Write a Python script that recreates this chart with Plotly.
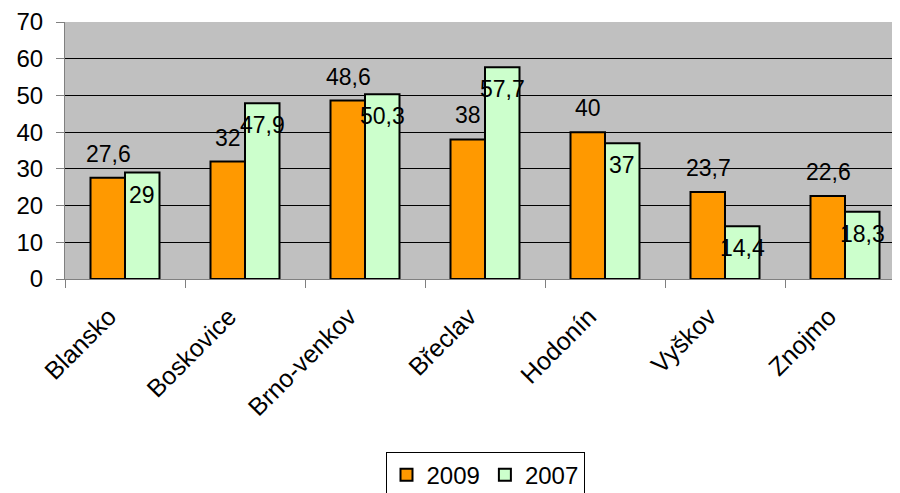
import plotly.graph_objects as go

categories = ["Blansko", "Boskovice", "Brno-venkov", "Břeclav", "Hodonín", "Vyškov", "Znojmo"]
values_2009 = [27.6, 32, 48.6, 38, 40, 23.7, 22.6]
values_2007 = [29, 47.9, 50.3, 57.7, 37, 14.4, 18.3]
y_ticks = [0, 10, 20, 30, 40, 50, 60, 70]


def fmt(v):
    return f"{v:g}".replace(".", ",")


FONT = "Liberation Sans, Arial, sans-serif"
FS = 23

fig = go.Figure()
fig.add_trace(go.Bar(name="2009", x=categories, y=values_2009,
                     marker=dict(color="#FF9900", line=dict(color="#000000", width=2))))
fig.add_trace(go.Bar(name="2007", x=categories, y=values_2007,
                     marker=dict(color="#CCFFCC", line=dict(color="#000000", width=2))))

annotations = []
for c, v in zip(categories, values_2009):
    annotations.append(dict(x=c, y=v, text=fmt(v), showarrow=False, xshift=-17, yshift=24,
                            font=dict(size=FS, color="#000000", family=FONT)))
for c, v in zip(categories, values_2007):
    annotations.append(dict(x=c, y=v, text=fmt(v), showarrow=False, xshift=17, yshift=-22,
                            font=dict(size=FS, color="#000000", family=FONT)))

fig.update_layout(
    width=900, height=493,
    margin=dict(l=57, r=8, t=14, b=222),
    paper_bgcolor="#FFFFFF",
    plot_bgcolor="#C0C0C0",
    barmode="group",
    bargap=0.425,
    bargroupgap=0,
    font=dict(family=FONT, size=FS, color="#000000"),
    annotations=annotations,
    showlegend=True,
    legend=dict(orientation="h", xref="container", yref="container",
                x=0.53, xanchor="center", y=0.1, yanchor="top",
                bordercolor="#000000", borderwidth=1, bgcolor="#FFFFFF",
                font=dict(size=24, family=FONT), itemwidth=30, tracegroupgap=0),
)
fig.update_xaxes(range=[-0.5, 6.4583], tickangle=-45, ticks="outside", tickson="boundaries",
                 ticklen=8, tickcolor="#808080", showline=True, linecolor="#808080",
                 linewidth=1, showgrid=False, ticklabelstandoff=12, ticklabelshift=-16,
                 automargin=False, tickfont=dict(size=25, family=FONT))
fig.update_yaxes(range=[0, 70], tickvals=y_ticks, ticks="outside", ticklen=8,
                 tickcolor="#808080", showline=True, linecolor="#808080", linewidth=1,
                 mirror=True, showgrid=True, gridcolor="#000000", gridwidth=1,
                 zeroline=False, ticklabelstandoff=8, automargin=False,
                 tickfont=dict(size=24, family=FONT))

fig.write_html("out.html", config={"displayModeBar": False})
